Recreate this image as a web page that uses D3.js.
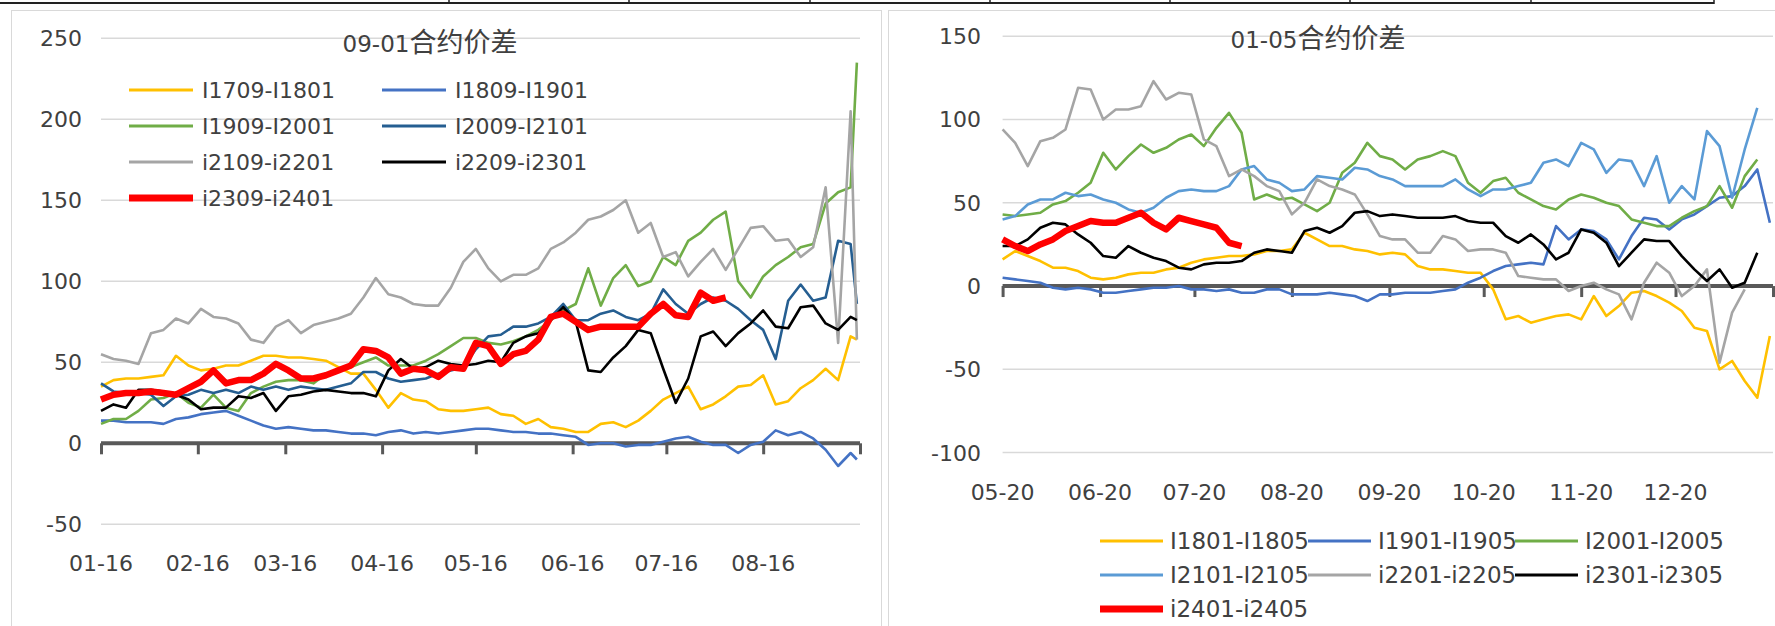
<!DOCTYPE html>
<html>
<head>
<meta charset="utf-8">
<script src="https://cdn.jsdelivr.net/npm/d3@7"></script>
<style>
  body { margin: 0; background: #fff; }
  svg text { font-family: "DejaVu Sans", "Noto Sans CJK SC", sans-serif; fill: #404040; }
</style>
</head>
<body>
<div id="chart"></div>
<script>
// ---- data: left chart (09-01 spread), one value every 4 days from 01-16, last point 2 days later
var leftDays = d3.range(0, 241, 4).concat([242]);
var leftTicks = ["01-16", "02-16", "03-16", "04-16", "05-16", "06-16", "07-16", "08-16", "09-16"];
var leftNames = ["I1709-I1801", "I1809-I1901", "I1909-I2001", "I2009-I2101", "i2109-i2201", "i2209-i2301", "i2309-i2401"];

var i1709 = [35,39,40,40,41,42,54,48,45,46, 48,48,51,54,54,53,53,52,51,47, 43,43,33,22,31,27,26,21,20,20,
  21,22,18,17,12,15,10,9,7,7, 12,13,10,14,20,27,31,35,21,24, 29,35,36,42,24,26,34,39,46,39, 66,64];
var i1809 = [14,14,13,13,13,12,15,16,18,19, 20,17,14,11,9,10,9,8,8,7, 6,6,5,7,8,6,7,6,7,8,
  9,9,8,7,7,6,6,5,4,-1, 0,0,-2,-1,-1,1,3,4,1,-1, -1,-6,-1,1,8,5,7,3,-4,-14, -6,-10];
var i1909 = [12,15,15,20,27,28,31,25,22,30, 22,20,31,35,38,39,39,37,43,45, 47,50,53,48,48,48,51,55,60,65,
  65,62,61,63,66,70,76,82,86,108, 85,102,110,97,100,115,110,125,130,138, 143,100,90,103,110,115,121,123,148,155, 158,235];
var i2009 = [37,32,31,31,30,23,29,30,33,31, 33,31,35,33,35,33,35,34,33,35, 37,44,44,40,38,39,40,43,45,47,
  58,66,67,72,72,74,78,86,76,76, 80,82,78,76,80,95,86,80,86,90, 88,83,76,70,52,88,98,88,90,125, 123,86];
var i2109 = [55,52,51,49,68,70,77,74,83,78, 77,74,64,62,72,76,68,73,75,77, 80,90,102,92,90,86,85,85,96,112,
  120,108,100,104,104,108,120,124,130,138, 140,144,150,130,136,115,118,103,112,120, 107,120,133,134,125,126,115,121,158,62, 205,64];
var i2209 = [20,24,22,33,33,32,30,27,21,22, 22,29,28,31,20,29,30,32,33,32, 31,31,29,45,52,46,47,51,49,48,
  49,51,50,62,66,68,76,84,75,45, 44,53,60,70,68,46,25,40,66,69, 60,68,74,82,72,71,84,85,74,70, 78,76];
var i2309 = [27,30,31,31,32,31,30,34,38,45, 37,39,39,43,49,45,40,40,42,45, 48,58,57,53,43,46,45,41,47,46,
  62,60,49,55,57,64,78,80,75,70, 72,72,72,72,80,86,79,78,93,88, 90];

// ---- data: right chart (01-05 spread), one value every 4 days from 05-20
var rightDays = d3.range(0, 245, 4);
var rightTicks = ["05-20", "06-20", "07-20", "08-20", "09-20", "10-20", "11-20", "12-20", "01-20"];
var rightNames = ["I1801-I1805", "I1901-I1905", "I2001-I2005", "I2101-I2105", "i2201-i2205", "i2301-i2305", "i2401-i2405"];

var i1801 = [16,21,18,15,11,11,9,5,4,5, 7,8,8,10,11,14,16,17,18,18, 19,21,21,22,32,28,24,24,22,21,
  19,20,19,12,10,10,9,8,8,-2, -20,-18,-22,-20,-18,-17,-20,-6,-18,-12, -4,-3,-6,-10,-15,-25,-27,-50,-45,-57, -67,-30];
var i1901 = [5,4,3,2,-1,-2,-1,-2,-4,-4, -3,-2,-1,-1,0,-2,-2,-3,-2,-4, -4,-2,-2,-5,-5,-5,-4,-5,-6,-9,
  -5,-5,-4,-4,-4,-3,-2,2,5,9, 12,13,14,13,36,28,34,33,28,16, 30,41,40,34,40,43,48,53,54,60, 70,38];
var i2001 = [43,42,43,44,49,51,56,62,80,70, 78,85,80,83,88,91,84,95,104,92, 52,55,52,53,49,45,50,68,74,86,
  78,76,70,76,78,81,78,62,56,63, 65,56,52,48,46,52,55,53,50,48, 40,38,36,36,41,45,48,60,47,66, 76];
var i2101 = [40,42,49,52,52,56,54,55,52,50, 46,44,47,53,57,58,57,57,60,70, 72,64,62,57,58,66,65,64,71,70,
  66,64,60,60,60,60,64,58,54,58, 58,60,62,74,76,72,86,82,68,76, 75,60,78,50,60,52,93,84,53,82, 107];
var i2201 = [94,86,72,87,89,94,119,118,100,106, 106,108,123,112,116,115,88,84,66,70, 66,60,57,43,50,64,60,58,55,43,
  30,28,28,20,20,30,28,21,22,22, 20,6,5,4,4,-3,0,2,-2,-5, -20,2,14,8,-6,0,10,-46,-16,-2];
var i2301 = [24,24,28,35,38,37,31,26,18,17, 24,20,17,15,11,10,13,14,14,15, 20,22,21,20,33,35,32,36,44,45,
  42,43,42,41,41,41,42,39,38,38, 30,26,31,25,16,20,34,32,26,12, 20,28,27,27,18,10,3,10,-1,2, 20];
var i2401 = [28,24,21,25,28,33,36,39,38,38, 41,44,38,34,41,39,37,35,26,24];

// series colours (Excel palette)
var leftColors = ["#ffc000", "#4472c4", "#70ad47", "#255e91", "#a5a5a5", "#000000", "#ff0000"];
var rightColors = ["#ffc000", "#4472c4", "#70ad47", "#5b9bd5", "#a5a5a5", "#000000", "#ff0000"];

var width = 1775;
var height = 626;

var svg = d3.select("#chart")
  .append("svg")
  .attr("width", width)
  .attr("height", height);

// top table border strip
svg.append("line")
  .attr("x1", 0).attr("x2", 1714).attr("y1", 3).attr("y2", 3)
  .attr("stroke", "#222").attr("stroke-width", 2);
[449, 629, 810, 990, 1170, 1350, 1531, 1714].forEach(function(x) {
  svg.append("line")
    .attr("x1", x).attr("x2", x).attr("y1", 0).attr("y2", 4)
    .attr("stroke", "#222").attr("stroke-width", 1.5);
});

// panel borders
svg.append("rect").attr("x", 11.5).attr("y", 10.5).attr("width", 870).attr("height", 640)
  .attr("fill", "none").attr("stroke", "#d9d9d9");
svg.append("rect").attr("x", 888.5).attr("y", 10.5).attr("width", 900).attr("height", 640)
  .attr("fill", "none").attr("stroke", "#d9d9d9");

function drawChart(cfg) {
  var g = svg.append("g");

  var dates = cfg.days.map(function(d) { return d3.timeDay.offset(cfg.start, d); });
  var tickDates = cfg.ticks.map(function(t, i) { return d3.timeMonth.offset(cfg.start, i); });

  var xScale = d3.scaleTime()
    .domain([cfg.start, tickDates[tickDates.length - 1]])
    .range([cfg.x0, cfg.x1]);
  var yScale = d3.scaleLinear()
    .domain(cfg.yDomain)
    .range([cfg.yBottom, cfg.yTop]);

  // gridlines
  var yTicks = d3.range(cfg.yDomain[0], cfg.yDomain[1] + 1, 50);
  g.selectAll(".grid")
    .data(yTicks.filter(function(v) { return v !== 0; }))
    .enter()
    .append("line")
    .attr("x1", cfg.x0).attr("x2", cfg.x1)
    .attr("y1", function(v) { return yScale(v); })
    .attr("y2", function(v) { return yScale(v); })
    .attr("stroke", "#d9d9d9")
    .attr("stroke-width", 1.5);

  // y labels
  g.selectAll(".ylab")
    .data(yTicks)
    .enter()
    .append("text")
    .attr("x", cfg.yLabelX)
    .attr("y", function(v) { return yScale(v); })
    .attr("dy", "0.36em")
    .attr("text-anchor", "end")
    .attr("font-size", 22)
    .text(function(v) { return v; });

  // x axis sits on zero
  var xAxis = d3.axisBottom(xScale)
    .tickValues(tickDates)
    .tickSize(11)
    .tickFormat("");
  var axisG = g.append("g")
    .attr("transform", "translate(0," + yScale(0) + ")")
    .call(xAxis);
  axisG.select(".domain").attr("stroke", "#595959").attr("stroke-width", 4).attr("d", "M" + cfg.x0 + ",0H" + cfg.x1);
  axisG.selectAll(".tick line").attr("stroke", "#595959").attr("stroke-width", 3);

  // x labels (last tick has no label)
  g.selectAll(".xlab")
    .data(tickDates.slice(0, -1))
    .enter()
    .append("text")
    .attr("x", function(d) { return xScale(d); })
    .attr("y", cfg.xLabelY)
    .attr("dy", "0.36em")
    .attr("text-anchor", "middle")
    .attr("font-size", 22)
    .text(function(d, i) { return cfg.ticks[i]; });

  // series lines
  var line = d3.line()
    .defined(function(d) { return d[1] != null; })
    .x(function(d) { return xScale(d[0]); })
    .y(function(d) { return yScale(d[1]); });

  cfg.series.forEach(function(vals, i) {
    var pts = dates.map(function(d, j) { return [d, j < vals.length ? vals[j] : null]; });
    g.append("path")
      .datum(pts)
      .attr("fill", "none")
      .attr("stroke", cfg.colors[i])
      .attr("stroke-width", i === 6 ? 6.5 : 2.6)
      .attr("stroke-linejoin", "round")
      .attr("d", line);
  });

  // title
  var title = g.append("text")
    .attr("x", cfg.titleX)
    .attr("y", cfg.titleY)
    .attr("text-anchor", "middle");
  title.append("tspan").attr("font-size", 23).text(cfg.title[0]);
  title.append("tspan").attr("font-size", 27).style("font-family", "Noto Sans CJK SC").text(cfg.title[1]);

  // legend
  cfg.names.forEach(function(name, i) {
    var pos = cfg.legendPos(i);
    g.append("line")
      .attr("x1", pos[0]).attr("x2", pos[0] + cfg.legendLine)
      .attr("y1", pos[1]).attr("y2", pos[1])
      .attr("stroke", cfg.colors[i])
      .attr("stroke-width", i === 6 ? 7 : 3);
    g.append("text")
      .attr("x", pos[0] + cfg.legendLine + cfg.legendGap)
      .attr("y", pos[1])
      .attr("dy", "0.36em")
      .attr("font-size", cfg.legendFont)
      .text(name);
  });
}

drawChart({
  start: new Date(2023, 0, 16),
  days: leftDays,
  ticks: leftTicks,
  names: leftNames,
  series: [i1709, i1809, i1909, i2009, i2109, i2209, i2309],
  colors: leftColors,
  x0: 101, x1: 860,
  yDomain: [-50, 250], yBottom: 524.3, yTop: 38.3,
  yLabelX: 82, xLabelY: 563,
  title: ["09-01", "合约价差"], titleX: 430, titleY: 52,
  legendLine: 64, legendGap: 9, legendFont: 22,
  legendPos: function(i) { return [i % 2 === 0 ? 129 : 382, 90 + Math.floor(i / 2) * 36]; }
});

drawChart({
  start: new Date(2023, 4, 20),
  days: rightDays,
  ticks: rightTicks,
  names: rightNames,
  series: [i1801, i1901, i2001, i2101, i2201, i2301, i2401],
  colors: rightColors,
  x0: 1002.6, x1: 1773,
  yDomain: [-100, 150], yBottom: 452.6, yTop: 36.2,
  yLabelX: 981, xLabelY: 492,
  title: ["01-05", "合约价差"], titleX: 1318, titleY: 48,
  legendLine: 63, legendGap: 7, legendFont: 23,
  legendPos: function(i) { return [[1100, 1308, 1515][i % 3], 541 + Math.floor(i / 3) * 34]; }
});
</script>
</body>
</html>
